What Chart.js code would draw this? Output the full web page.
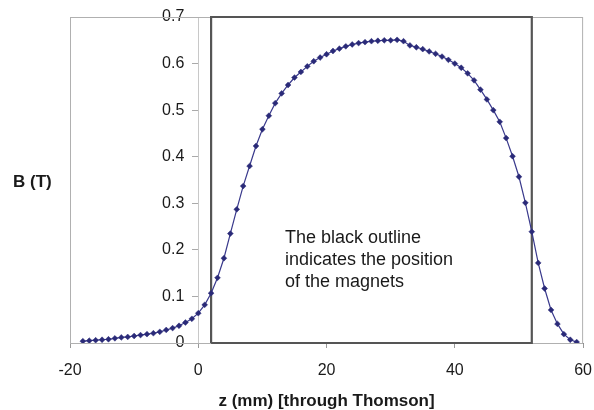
<!DOCTYPE html>
<html>
<head>
<meta charset="utf-8">
<script src="https://cdn.jsdelivr.net/npm/chart.js@4/dist/chart.umd.min.js"></script>
<style>
  html, body { margin: 0; padding: 0; background: #fff; }
  #wrap { width: 594px; height: 410px; position: relative; }
</style>
</head>
<body>
<div id="wrap"><canvas id="fieldChart"></canvas></div>
<script>
// data
const zPositions = [-18, -17, -16, -15, -14, -13, -12, -11, -10, -9, -8, -7, -6, -5, -4, -3, -2, -1,
  0, 1, 2, 3, 4, 5, 6, 7, 8, 9, 10, 11, 12, 13, 14, 15, 16, 17, 18, 19, 20,
  21, 22, 23, 24, 25, 26, 27, 28, 29, 30, 31, 32, 33, 34, 35, 36, 37, 38, 39, 40,
  41, 42, 43, 44, 45, 46, 47, 48, 49, 50, 51, 52, 53, 54, 55, 56, 57, 58, 59];
const fieldB = [0.004, 0.005, 0.006, 0.007, 0.008, 0.010, 0.012, 0.013, 0.015, 0.017, 0.019, 0.021, 0.024, 0.028, 0.032, 0.037, 0.044, 0.052,
  0.064, 0.082, 0.107, 0.140, 0.182, 0.235, 0.287, 0.337, 0.380, 0.423, 0.459, 0.488, 0.515, 0.536, 0.554, 0.570, 0.582, 0.594, 0.605, 0.613, 0.620,
  0.627, 0.632, 0.637, 0.641, 0.644, 0.646, 0.648, 0.649, 0.650, 0.650, 0.651, 0.648, 0.639, 0.635, 0.631, 0.626, 0.621, 0.615, 0.608, 0.600,
  0.591, 0.579, 0.564, 0.544, 0.523, 0.500, 0.475, 0.440, 0.401, 0.357, 0.301, 0.239, 0.172, 0.117, 0.071, 0.041, 0.019, 0.007, 0.002];

// magnet outline (z range and B range of the black box)
const magnetZ = [2, 52];
const magnetB = [0, 0.7];

const xTicks = [-20, 0, 20, 40, 60];
const yTicks = [0, 0.1, 0.2, 0.3, 0.4, 0.5, 0.6, 0.7];

const xTitle = 'z (mm) [through Thomson]';
const yTitle = 'B (T)';
const noteLines = ['The black outline', 'indicates the position', 'of the magnets'];

Chart.defaults.font.family = "'Liberation Sans', Arial, sans-serif";
Chart.defaults.color = '#222';

const curvePoints = zPositions.map((z, i) => ({ x: z, y: fieldB[i] }));
const outlinePoints = [
  { x: magnetZ[0], y: magnetB[0] },
  { x: magnetZ[0], y: magnetB[1] },
  { x: magnetZ[1], y: magnetB[1] },
  { x: magnetZ[1], y: magnetB[0] },
  { x: magnetZ[0], y: magnetB[0] }
];

// frame + side texts
const framePlugin = {
  id: 'frame',
  beforeDatasetsDraw(chart) {
    const { ctx, chartArea: a } = chart;
    ctx.save();
    ctx.strokeStyle = '#b0b0b0';
    ctx.lineWidth = 1;
    ctx.strokeRect(a.left + 0.5, a.top + 0.5, a.right - a.left - 1, a.bottom - a.top);
    ctx.restore();
  },
  afterDraw(chart) {
    const { ctx } = chart;
    ctx.save();
    ctx.fillStyle = '#1a1a1a';
    ctx.font = "bold 17px 'Liberation Sans', Arial, sans-serif";
    ctx.textAlign = 'left';
    ctx.textBaseline = 'middle';
    ctx.fillText(yTitle, 13, 182);
    ctx.font = "18px 'Liberation Sans', Arial, sans-serif";
    ctx.textBaseline = 'alphabetic';
    noteLines.forEach((t, i) => ctx.fillText(t, 285, 243 + i * 22));
    ctx.restore();
  }
};

// y axis sits at z = 0, push its labels off the tick marks
function shiftYLabels(scale) {
  if (scale._shifted) return;
  const orig = scale.drawLabels.bind(scale);
  scale.drawLabels = function (area) {
    const c = this.ctx;
    c.save();
    c.translate(-14, 0);
    orig(area);
    c.restore();
  };
  scale._shifted = true;
}

const ctx = document.getElementById('fieldChart').getContext('2d');
const fieldChart = new Chart(ctx, {
  type: 'scatter',
  data: {
    datasets: [{
      label: 'B',
      data: curvePoints,
      showLine: true,
      borderColor: '#39398c',
      borderWidth: 1.2,
      pointStyle: 'rectRot',
      pointRadius: 2.9,
      pointBackgroundColor: '#2a2a78',
      pointBorderColor: '#2a2a78',
      pointBorderWidth: 0.5
    }, {
      label: 'magnets',
      data: outlinePoints,
      showLine: true,
      borderColor: '#555',
      borderWidth: 2.2,
      pointRadius: 0,
      clip: false
    }]
  },
  options: {
    responsive: true,
    maintainAspectRatio: false,
    animation: false,
    layout: { padding: { left: 70, right: 0, top: 17, bottom: 0 } },
    plugins: { legend: { display: false }, tooltip: { enabled: false } },
    scales: {
      x: {
        type: 'linear',
        min: -20, max: 60,
        afterBuildTicks: (s) => { s.ticks = xTicks.map(v => ({ value: v })); },
        afterFit: (s) => { s.height = 67; },
        ticks: { font: { size: 16, lineHeight: 2.6 }, padding: 2, color: '#1a1a1a' },
        grid: { drawOnChartArea: false, tickLength: 5, color: '#999' },
        border: { color: '#888' },
        title: { display: true, text: xTitle, font: { size: 17, weight: 'bold' }, color: '#1a1a1a', padding: { top: 0, bottom: -2 } }
      },
      y: {
        type: 'linear',
        min: 0, max: 0.7,
        position: { x: 0 },
        afterBuildTicks: (s) => { s.ticks = yTicks.map(v => ({ value: v })); },
        afterFit: (s) => { s.width = 0; },
        afterUpdate: shiftYLabels,
        ticks: { font: { size: 16 }, padding: 6, color: '#1a1a1a', callback: (v) => String(Math.round(v * 10) / 10) },
        grid: { drawOnChartArea: false, tickLength: 6, color: '#aaa' },
        border: { color: '#c8c8c8' }
      }
    }
  },
  plugins: [framePlugin]
});
</script>
</body>
</html>
